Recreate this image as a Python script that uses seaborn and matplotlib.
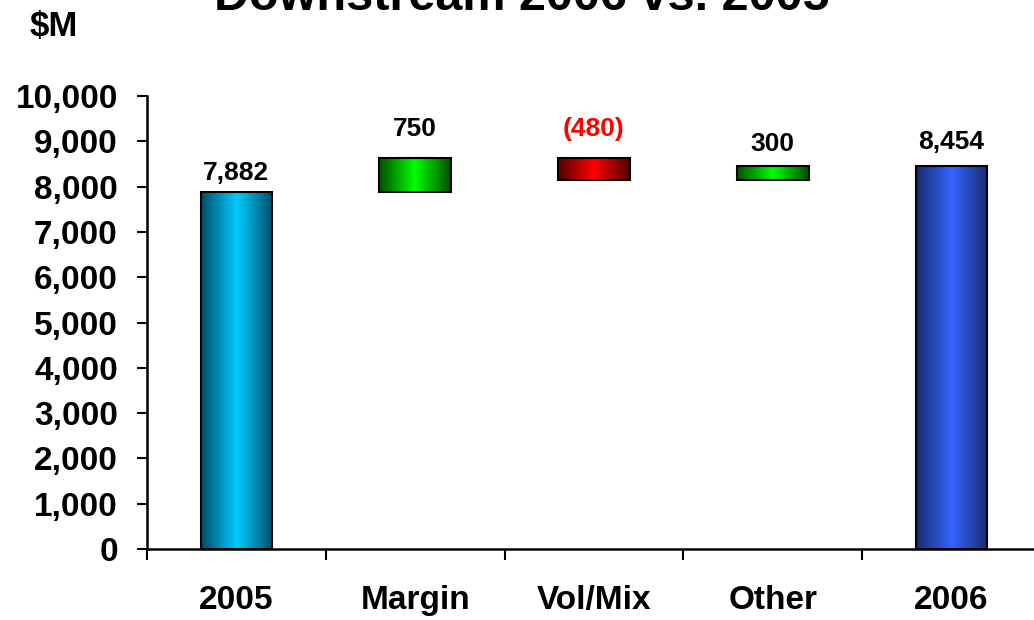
import numpy as np
import pandas as pd
import matplotlib
matplotlib.use("Agg")
import matplotlib.pyplot as plt
from matplotlib.colors import LinearSegmentedColormap
import seaborn as sns

# ---- data ----
categories = ["2005", "Margin", "Vol/Mix", "Other", "2006"]
changes = [7882, 750, -480, 300, 8454]   # totals for first/last, deltas in between
kinds = ["total", "delta", "delta", "delta", "total"]
labels = ["7,882", "750", "(480)", "300", "8,454"]
label_colors = ["black", "black", "#FF0000", "black", "black"]
center_colors = ["#00CCFF", "#00FF00", "#FF0000", "#00FF00", "#3366FF"]
edge_colors = ["#004E66", "#005000", "#500000", "#005000", "#1A2A70"]
label_offsets_px = [19, 29, 29, 22, 24]
yticks = list(range(0, 10001, 1000))

# ---- waterfall geometry from data ----
bottoms, heights = [], []
running = 0
for v, k in zip(changes, kinds):
    if k == "total":
        bottoms.append(0); heights.append(v); running = v
    else:
        lo = min(running, running + v)
        bottoms.append(lo); heights.append(abs(v)); running += v

df = pd.DataFrame({"cat": categories, "height": heights})

sns.set_theme(style="white")
plt.rcParams["font.family"] = ["Liberation Sans", "DejaVu Sans"]
plt.rcParams["font.weight"] = "bold"
plt.rcParams["text.color"] = "black"
plt.rcParams["xtick.color"] = "black"
plt.rcParams["ytick.color"] = "black"
plt.rcParams["xtick.labelcolor"] = "black"
plt.rcParams["ytick.labelcolor"] = "black"

fig = plt.figure(figsize=(10.34, 6.2), dpi=100)
ax = fig.add_axes([147 / 1034, 71 / 620, (1041 - 147) / 1034, (549 - 96) / 620])

sns.barplot(data=df, x="cat", y="height", ax=ax, width=0.4,
            color="white", edgecolor="black", linewidth=1.5, saturation=1)

grad = np.linspace(0, 1, 256).reshape(1, -1)
for i, p in enumerate(ax.patches):
    p.set_y(bottoms[i])
    x0, w = p.get_x(), p.get_width()
    y0, h = bottoms[i], heights[i]
    cmap = LinearSegmentedColormap.from_list(
        f"g{i}", [edge_colors[i], center_colors[i], edge_colors[i]])
    im = ax.imshow(grad, cmap=cmap, aspect="auto", extent=[x0, x0 + w, y0, y0 + h],
                   zorder=p.get_zorder() - 0.1, interpolation="bilinear")
    im.set_clip_path(p)
    p.set_facecolor("none")
    p.set_zorder(3)
    ax.annotate(labels[i], (x0 + w / 2, y0 + h), xytext=(0, label_offsets_px[i] * 0.72),
                textcoords="offset points", ha="center", va="center",
                fontsize=19, fontweight="bold", color=label_colors[i])

ax.set_xlim(-0.5, 4.5)
ax.set_ylim(0, 10000)
ax.set_yticks(yticks)
ax.set_yticklabels([f"{t:,}" for t in yticks])
ax.set_xticks(range(len(categories)))
ax.set_xticklabels(categories)
ax.set_xticks(np.arange(-0.5, 5.0, 1.0), minor=True)
ax.tick_params(axis="x", which="major", length=0, pad=26, labelsize=24, bottom=True)
ax.tick_params(axis="x", which="minor", length=8, width=1.5, color="black",
               direction="out", bottom=True)
ax.tick_params(axis="y", which="major", length=7, width=1.5, color="black",
               direction="out", pad=14, labelsize=24, left=True)
for lab in ax.get_xticklabels() + ax.get_yticklabels():
    lab.set_fontweight("bold")
    lab.set_color("black")
ax.set_xlabel("")
ax.set_ylabel("")
sns.despine(ax=ax, top=True, right=True)
for s in ["left", "bottom"]:
    ax.spines[s].set_color("black")
    ax.spines[s].set_linewidth(1.8)

fig.text(0.505, 1 - 10 / 620, "Downstream 2006 vs. 2005", ha="center", va="baseline",
         fontsize=35, fontweight="bold", color="black")
fig.text(30 / 1034, 1 - 36 / 620, "$M", ha="left", va="baseline",
         fontsize=25, fontweight="bold", color="black")

fig.savefig("out.png", dpi=100, facecolor="white")
